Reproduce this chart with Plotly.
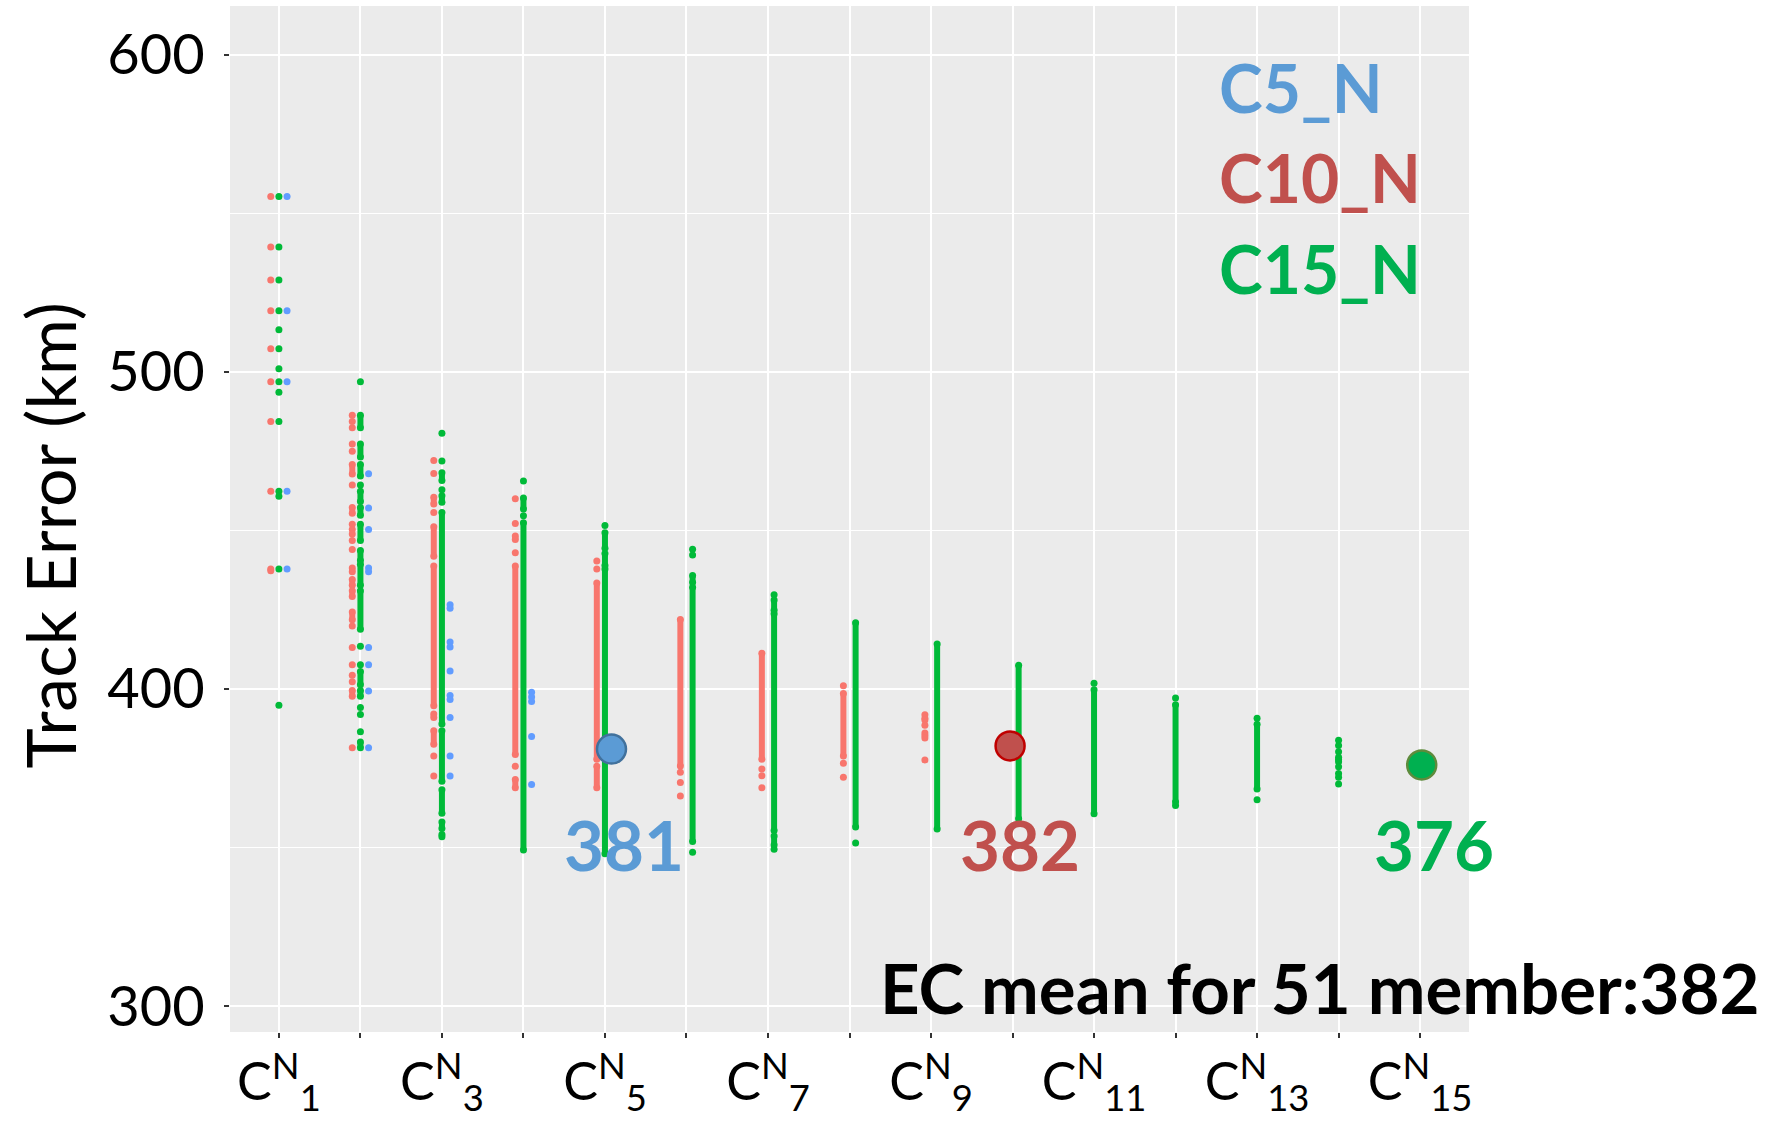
import plotly.graph_objects as go

# ---------------- data ----------------
categories = list(range(1, 16))
tick_labels = ["C<sup>N</sup><sub>%d</sub>" % k if k % 2 == 1 else "" for k in categories]
y_ticks = [300, 400, 500, 600]

# series order as in the plot (dodge order left -> right)
series_names = ["C10_N", "C15_N", "C5_N"]
point_colors = ["#F8766D", "#00BA38", "#619CFF"]

# isolated points per category (index 0 -> C^N_1)
c10_pts = [
    [555.2, 539.3, 528.9, 519.2, 507.2, 496.8, 484.3, 462.3, 437.8, 437.2],
    [486.3, 484.3, 482.3, 477.2, 474.9, 464.3, 451.9, 450.2, 448.8, 446.8, 443.9,
     419.8, 413.0, 407.6, 404.3, 402.2, 381.4],
    [472.0, 467.9, 455.6, 378.8, 372.5],
    [459.9, 452.1, 442.9, 375.6],
    [440.3, 437.8],
    [373.7, 370.5, 366.2],
    [374.7, 372.6, 368.8],
    [401.0, 376.5, 372.1],
    [391.8, 390.7, 390.2, 388.5, 386.1, 385.3, 384.5, 377.6],
    [382.0],
    [], [], [], [], [],
]
# dense stretches of points per category, as (top, bottom)
c10_runs = [
    [],
    [(470.7, 467.7), (457.2, 455.4), (438.1, 436.9), (434.5, 432.7), (430.9, 429.1),
     (424.2, 421.8), (399.5, 397.7)],
    [(460.4, 458.3), (451.1, 441.8), (438.7, 394.7), (392.1, 391.0), (386.8, 382.5)],
    [(448.2, 447.1), (438.7, 379.3), (371.4, 368.8)],
    [(433.4, 377.8), (375.6, 368.8)],
    [(421.9, 375.7)],
    [(411.2, 377.8)],
    [(398.5, 378.8)],
    [], [], [], [], [], [], [],
]

c15_pts = [
    [555.2, 539.3, 528.9, 519.2, 513.2, 507.2, 500.9, 496.8, 493.5, 484.3, 462.3,
     460.7, 437.8, 394.8],
    [496.8, 464.3, 413.4, 407.6, 394.1, 391.9, 386.5],
    [480.6, 471.8, 462.8],
    [465.5, 454.6],
    [451.5],
    [444.0, 442.2, 348.5],
    [429.7, 349.4],
    [351.4],
    [],
    [],
    [401.8],
    [397.1, 363.2],
    [390.7, 365.0],
    [383.8, 382.1, 380.2, 378.4, 377.7, 377.0, 375.4, 373.3, 372.1, 370.0],
    [376.0],
]
c15_runs = [
    [],
    [(486.3, 482.3), (477.2, 473.1), (470.7, 467.1), (462.3, 459.1), (457.2, 454.7),
     (451.9, 446.8), (443.6, 440.5), (439.3, 432.7), (430.9, 418.8), (405.5, 401.3),
     (399.5, 397.7), (383.2, 381.4)],
    [(468.1, 465.7), (460.9, 458.8), (455.6, 388.9), (386.8, 370.9), (368.2, 360.8),
     (358.0, 356.0), (354.1, 353.4)],
    [(460.2, 456.7), (452.4, 349.2)],
    [(449.2, 444.3), (442.7, 438.9), (437.8, 348.0)],
    [(435.7, 433.5), (432.0, 351.9)],
    [(428.0, 424.8), (423.7, 355.3), (353.6, 350.8)],
    [(420.8, 356.4)],
    [(414.1, 355.8)],
    [(407.4, 359.0)],
    [(399.7, 360.6)],
    [(395.0, 364.3)],
    [(388.8, 368.4)],
    [],
    [],
]

c5_pts = [
    [555.2, 519.2, 496.8, 462.3, 437.8],
    [467.8, 457.0, 450.2, 438.1, 436.9, 413.0, 407.6, 399.3, 381.4],
    [426.5, 425.4, 414.8, 413.2, 405.6, 397.9, 396.6, 391.0, 378.8, 372.5],
    [398.9, 397.4, 396.0, 385.0, 369.8],
    [381.0],
    [], [], [], [], [], [], [], [], [], [],
]
c5_runs = [[] for _ in categories]

# highlighted means
mean_series = ["C5_N", "C10_N", "C15_N"]
mean_cats = [5, 10, 15]
mean_values = [381, 382, 376]
mean_fill = ["#5B9BD5", "#C0504D", "#00B050"]
mean_edge = ["#41719C", "#C00000", "#5E8B3C"]
mean_label_pos = [0.318, 0.638, 0.972]

legend_labels = ["C5_N", "C10_N", "C15_N"]
legend_colors = ["#5B9BD5", "#C0504D", "#00B050"]
legend_y = [0.921, 0.833, 0.744]

footer_text = "EC mean for 51 member:382"
y_title = "Track Error (km)"

# ---------------- build ----------------
all_pts = {"C10_N": c10_pts, "C15_N": c15_pts, "C5_N": c5_pts}
all_runs = {"C10_N": c10_runs, "C15_N": c15_runs, "C5_N": c5_runs}
DODGE = 0.3
# small hand placement of the highlight circles relative to the category
MEAN_SHIFT = {"C5_N": 0.08, "C10_N": -0.03, "C15_N": 0.02}


def dodge_x(name, cat_idx):
    present = [s for s in series_names
               if all_pts[s][cat_idx] or all_runs[s][cat_idx]]
    n = len(present)
    i = present.index(name)
    return categories[cat_idx] + (i - (n - 1) / 2) * DODGE / n


fig = go.Figure()

for name, col in zip(series_names, point_colors):
    rx, ry, ex, ey, px, py = [], [], [], [], [], []
    for ci in range(len(categories)):
        if not (all_pts[name][ci] or all_runs[name][ci]):
            continue
        xpos = dodge_x(name, ci)
        for v in all_pts[name][ci]:
            px.append(xpos)
            py.append(v)
        for top, bot in all_runs[name][ci]:
            rx += [xpos, xpos, None]
            ry += [top, bot, None]
            ex += [xpos, xpos]
            ey += [top, bot]
    fig.add_trace(go.Scatter(x=rx, y=ry, mode="lines", line=dict(color=col, width=6),
                             showlegend=False, hoverinfo="skip", connectgaps=False))
    fig.add_trace(go.Scatter(x=ex + px, y=ey + py, mode="markers",
                             marker=dict(color=col, size=7, line=dict(width=0)),
                             showlegend=False, name=name))

for name, cat, val, fc, ec in zip(mean_series, mean_cats, mean_values, mean_fill, mean_edge):
    xpos = cat + MEAN_SHIFT[name]
    fig.add_trace(go.Scatter(x=[xpos], y=[val], mode="markers",
                             marker=dict(color=fc, size=29, line=dict(color=ec, width=2.5)),
                             showlegend=False, name=name + " mean"))

annotations = []
for lab, col, yy in zip(legend_labels, legend_colors, legend_y):
    annotations.append(dict(text="<b>%s</b>" % lab, xref="paper", yref="paper", x=0.797, y=yy,
                            xanchor="left", yanchor="middle", showarrow=False,
                            font=dict(family="Lato", size=66, color=col)))
for val, col, xx in zip(mean_values, mean_fill, mean_label_pos):
    annotations.append(dict(text="<b>%d</b>" % val, xref="paper", yref="paper", x=xx, y=0.183,
                            xanchor="center", yanchor="middle", showarrow=False,
                            font=dict(family="Lato", size=69, color=col)))
annotations.append(dict(text="<b>%s</b>" % footer_text, xref="paper", yref="paper", x=0.880, y=0.043,
                        xanchor="center", yanchor="middle", showarrow=False,
                        font=dict(family="Lato", size=69, color="black")))
annotations.append(dict(text=y_title, xref="paper", yref="paper", x=-0.146, y=0.484,
                        xanchor="center", yanchor="middle", showarrow=False, textangle=-90,
                        font=dict(family="Lato", size=68, color="black")))

fig.update_layout(
    width=1777, height=1122,
    margin=dict(l=230, r=308, t=6, b=90, autoexpand=False),
    paper_bgcolor="white", plot_bgcolor="#EBEBEB",
    showlegend=False,
    annotations=annotations,
    font=dict(family="Lato", color="black"),
)
fig.update_xaxes(
    range=[0.4, 15.6], tickmode="array", tickvals=categories, ticktext=tick_labels,
    showgrid=True, gridcolor="white", gridwidth=2, zeroline=False, automargin=False,
    ticks="outside", ticklen=5, tickcolor="#333333", tickwidth=1.5,
    tickfont=dict(family="Lato", size=52, color="black"), showline=False,
)
fig.update_yaxes(
    range=[291.8, 615.3], tickmode="array", tickvals=y_ticks, automargin=False,
    showgrid=True, gridcolor="white", gridwidth=2, zeroline=False,
    minor=dict(tickmode="array", tickvals=[350, 450, 550], showgrid=True,
               gridcolor="white", gridwidth=1, ticks=""),
    ticks="outside", ticklen=5, tickcolor="#333333", tickwidth=1.5,
    tickfont=dict(family="Lato", size=56, color="black"), showline=False,
    ticklabelstandoff=8,
)

fig.write_html("out.html")
